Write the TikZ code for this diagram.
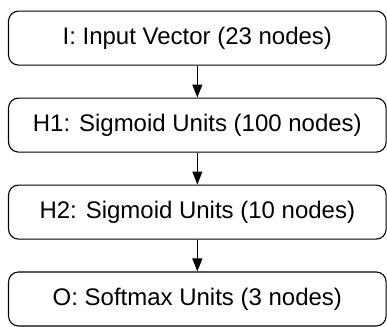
\documentclass[tikz,border=0pt]{standalone}
\usepackage{fontspec}
\setmainfont{Liberation Sans}
\usepackage{tikz}
\usetikzlibrary{arrows.meta}

\tikzset{layer/.style={draw, line width=1.1pt, rounded corners=10pt, minimum width=13.28cm, minimum height=1.9cm, inner sep=0pt, font=\fontsize{24}{28}\selectfont}}
\tikzset{feed/.style={line width=1pt, -{Triangle[width=10pt,length=13pt]}}}

\begin{document}
\begin{tikzpicture}
\useasboundingbox (0,0) rectangle (13.61,11.50);

\node[layer](in) at (6.94,10.16){I: Input Vector (23 nodes)};
\node[layer](hone) at (6.94,7.10){H1: Sigmoid Units (100 nodes)};
\node[layer](htwo) at (6.94,4.04){H2: Sigmoid Units (10 nodes)};
\node[layer](out) at (6.94,0.985){O: Softmax Units (3 nodes)};

\draw[feed](in)--(hone);
\draw[feed](hone)--(htwo);
\draw[feed](htwo)--(out);

\end{tikzpicture}
\end{document}
